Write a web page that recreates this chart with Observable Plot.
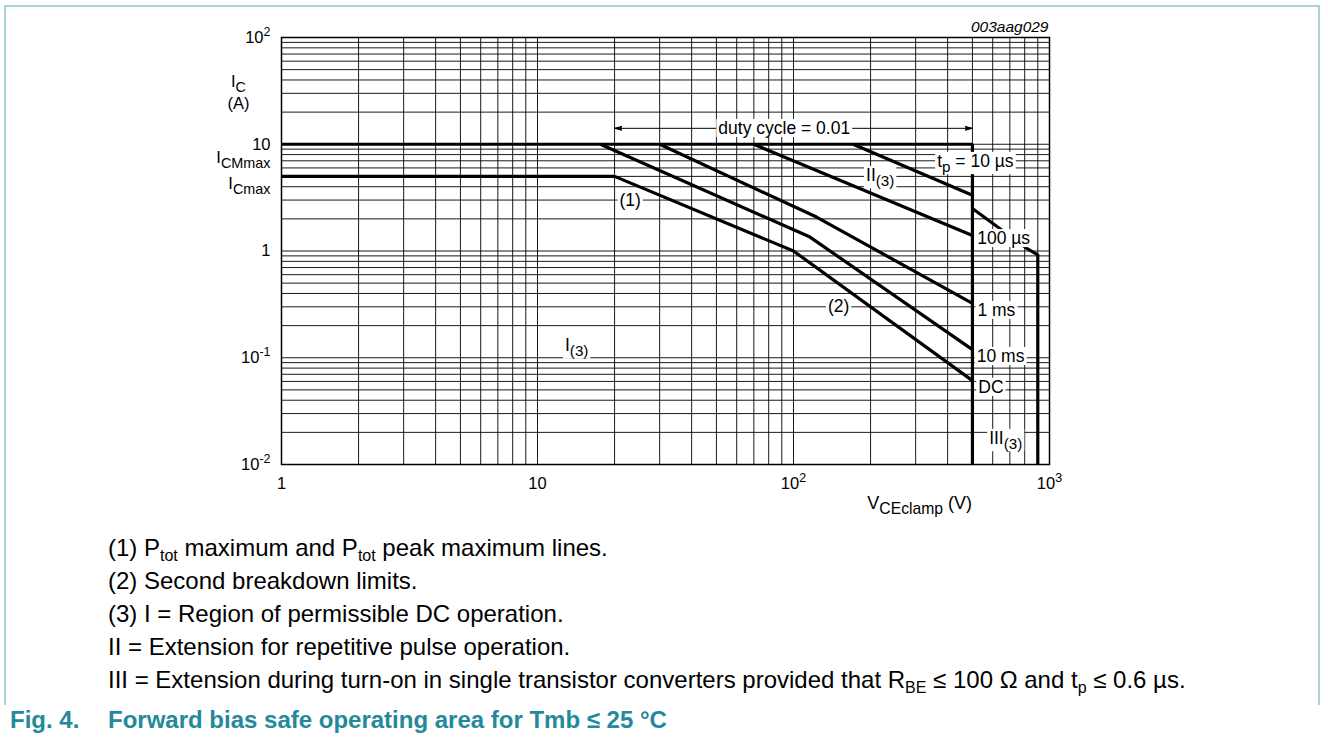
<!DOCTYPE html>
<html><head><meta charset="utf-8">
<script src="https://cdn.jsdelivr.net/npm/d3@7"></script>
<script src="https://cdn.jsdelivr.net/npm/@observablehq/plot@0.6"></script>
<style>
body{margin:0;background:#fff;font-family:"Liberation Sans",Arial,sans-serif;}
#page{position:relative;width:1328px;height:749px;overflow:hidden;background:#fff;}
#border{position:absolute;left:4px;top:5px;width:1316px;height:700px;border:2px solid #a9d3d7;border-bottom:none;box-sizing:border-box;}
#chart{position:absolute;left:0;top:0;}
.notes{position:absolute;left:108px;top:531px;font-size:24px;line-height:33px;color:#000;white-space:nowrap;}
.notes sub{font-size:16px;vertical-align:-5px;line-height:0;}
.fig{position:absolute;top:708px;font-size:24px;line-height:24px;font-weight:bold;color:#23899b;white-space:nowrap;}
</style></head>
<body>
<div id="page">
  <div id="border"></div>
  <div id="chart"></div>
  <div class="notes">
    <div>(1) P<sub>tot</sub> maximum and P<sub>tot</sub> peak maximum lines.</div>
    <div>(2) Second breakdown limits.</div>
    <div>(3) I = Region of permissible DC operation.</div>
    <div>II = Extension for repetitive pulse operation.</div>
    <div>III = Extension during turn-on in single transistor converters provided that R<sub>BE</sub> ≤ 100 Ω and t<sub>p</sub> ≤ 0.6 µs.</div>
  </div>
  <div class="fig" style="left:10px">Fig. 4.</div>
  <div class="fig" style="left:108px">Forward bias safe operating area for Tmb ≤ 25 °C</div>
</div>
<script>
// ---- axes ----
const xDomain = [1, 1000];
const yDomain = [0.01, 100];
const xTickValues = [1, 10, 100, 1000];
const xTickLabels = ["1", "10", "10^{2}", "10^{3}"];
const yTickValues = [0.01, 0.1, 1, 10, 100];
const yTickLabels = ["10^{-2}", "10^{-1}", "1", "10", "10^{2}"];

// ---- limit curves: [V_CEclamp (V), I_C (A)] ----
const icmMaxLine  = [[1, 10], [500, 10], [500, 0.01]];
const dcLine      = [[1, 5], [20, 5], [100, 1], [500, 0.061]];
const ms10Line    = [[17.6, 10], [116, 1.35], [500, 0.119]];
const ms1Line     = [[30, 10], [123, 2.08], [500, 0.323]];
const us100Line   = [[70, 10], [500, 1.4]];
const us10Line    = [[171, 10], [500, 3.33]];
const region3Line = [[500, 2.5], [815, 1.06], [900, 0.92], [900, 0.01]];

// ---- annotations ----
const labelText   = ["duty cycle = 0.01", "t_{p} = 10 µs", "II_{(3)}", "100 µs", "1 ms", "10 ms", "DC", "III_{(3)}", "(2)", "(1)", "I_{(3)}"];
const labelV      = [92, 364, 192, 522, 523, 520, 527, 581, 150, 23, 12.8];
const labelA      = [14.1, 6.93, 5.1, 1.31, 0.278, 0.103, 0.053, 0.0176, 0.3, 3, 0.13];
const labelAnchor = ["middle", "start", "start", "start", "start", "start", "start", "start", "middle", "middle", "start"];
const dutyArrowFrom = 92, dutyArrowTo = [20, 500], dutyArrowA = 14.1;

const sideLabelText = ["I_{C}", "(A)", "I_{CMmax}", "I_{Cmax}"];
const sideLabelA    = [38.4, 24.2, 7.4, 4.3];
const xTitle = "V_{CEclamp} (V)";
const xTitleV = 311;
const figId = "003aag029";

// ---- build tables ----
const curves = [
  ["ICMmax", icmMaxLine], ["DC", dcLine], ["10ms", ms10Line], ["1ms", ms1Line],
  ["100us", us100Line], ["10us", us10Line], ["III", region3Line]
].flatMap(([s, pts]) => pts.map(([v, a]) => ({s, v, a})));
const labels = labelText.map((t, i) => ({t, v: labelV[i], a: labelA[i], anchor: labelAnchor[i]}));
const xTicks = xTickValues.map((v, i) => ({v, t: xTickLabels[i]}));
const yTicks = yTickValues.map((v, i) => ({v, t: yTickLabels[i]}));
const side = sideLabelText.map((t, i) => ({t, a: sideLabelA[i]}));
const arrows = dutyArrowTo.map(to => ({x1: dutyArrowFrom, x2: to, y: dutyArrowA}));

const W = 1328, H = 520;
const gridX = d3.scaleLog().domain(xDomain).ticks(40);
const gridY = d3.scaleLog().domain(yDomain).ticks(40);

const svg = Plot.plot({
  width: W, height: H,
  marginLeft: 281, marginRight: W - 1049, marginTop: 37, marginBottom: H - 464,
  style: {fontFamily: "'Liberation Sans', Arial, sans-serif", background: "transparent", color: "#000"},
  x: {type: "log", domain: xDomain, axis: null},
  y: {type: "log", domain: yDomain, axis: null},
  marks: [
    Plot.ruleX(gridX, {x: d => d, stroke: "#000", strokeWidth: 1, strokeOpacity: 0.9}),
    Plot.ruleY(gridY, {y: d => d, stroke: "#000", strokeWidth: 1, strokeOpacity: 0.9}),
    Plot.frame({stroke: "#000", strokeWidth: 1.5}),
    Plot.line(curves, {x: "v", y: "a", z: "s", stroke: "#000", strokeWidth: 3.2, strokeLinejoin: "miter", strokeLinecap: "butt"}),
    Plot.arrow(arrows, {x1: "x1", x2: "x2", y1: "y", y2: "y", stroke: "#000", strokeWidth: 1, headLength: 11, headAngle: 30, strokeLinejoin: "miter"}),
    Plot.text(yTicks, {y: "v", text: "t", frameAnchor: "left", textAnchor: "end", lineAnchor: "middle", dx: -11, fontSize: 16.5}),
    Plot.text(xTicks, {x: "v", text: "t", frameAnchor: "bottom", lineAnchor: "middle", dy: 19, fontSize: 16.5}),
    Plot.text(side.slice(0, 2), {y: "a", text: "t", frameAnchor: "left", textAnchor: "middle", lineAnchor: "middle", dx: -43, fontSize: 16.5}),
    Plot.text(side.slice(2), {y: "a", text: "t", frameAnchor: "left", textAnchor: "end", lineAnchor: "middle", dx: -11, fontSize: 16.5}),
    Plot.text([xTitle], {x: () => xTitleV, text: d => d, frameAnchor: "bottom", lineAnchor: "middle", dy: 39, fontSize: 18}),
    Plot.text([figId], {text: d => d, frameAnchor: "top-right", textAnchor: "end", lineAnchor: "middle", dy: -10, dx: -1, fontSize: 15.5, fontStyle: "italic"}),
    Plot.text(labels.filter(d => d.anchor === "start"), {x: "v", y: "a", text: "t", textAnchor: "start", lineAnchor: "middle", fontSize: 17.5}),
    Plot.text(labels.filter(d => d.anchor === "middle"), {x: "v", y: "a", text: "t", textAnchor: "middle", lineAnchor: "middle", fontSize: 17.5})
  ]
});
document.getElementById("chart").appendChild(svg);

// arrowheads filled
d3.select(svg).selectAll('g[aria-label="arrow"] path').attr("fill", "#000");

// rich text: _{sub} and ^{sup}
const NS = "http://www.w3.org/2000/svg";
const boxed = new Set(labelText);
d3.select(svg).selectAll("text").each(function () {
  const el = this;
  const raw = el.textContent;
  if (/[_^]\{/.test(raw)) {
    const fs = parseFloat(getComputedStyle(el).fontSize) || 16.5;
    const parts = [];
    const re = /([_^])\{([^}]*)\}/g;
    let last = 0, m;
    while ((m = re.exec(raw))) {
      if (m.index > last) parts.push({t: raw.slice(last, m.index), k: ""});
      parts.push({t: m[2], k: m[1]});
      last = re.lastIndex;
    }
    if (last < raw.length) parts.push({t: raw.slice(last), k: ""});
    while (el.firstChild) el.removeChild(el.firstChild);
    for (const p of parts) {
      const ts = document.createElementNS(NS, "tspan");
      ts.textContent = p.t;
      if (p.k === "_") { ts.setAttribute("font-size", (fs * 0.87).toFixed(1)); ts.setAttribute("baseline-shift", (-fs * 0.3).toFixed(1)); }
      if (p.k === "^") { ts.setAttribute("font-size", (fs * 0.76).toFixed(1)); ts.setAttribute("baseline-shift", (fs * 0.42).toFixed(1)); }
      el.appendChild(ts);
    }
  }
  if (boxed.has(raw)) {
    const b = el.getBBox();
    const r = document.createElementNS(NS, "rect");
    r.setAttribute("x", b.x - 2);
    r.setAttribute("y", b.y + 1);
    r.setAttribute("width", b.width + 4);
    r.setAttribute("height", b.height - 2);
    r.setAttribute("fill", "#fff");
    r.setAttribute("stroke", "none");
    const tr = el.getAttribute("transform");
    if (tr) r.setAttribute("transform", tr);
    el.parentNode.insertBefore(r, el);
  }
});
</script>
</body></html>
